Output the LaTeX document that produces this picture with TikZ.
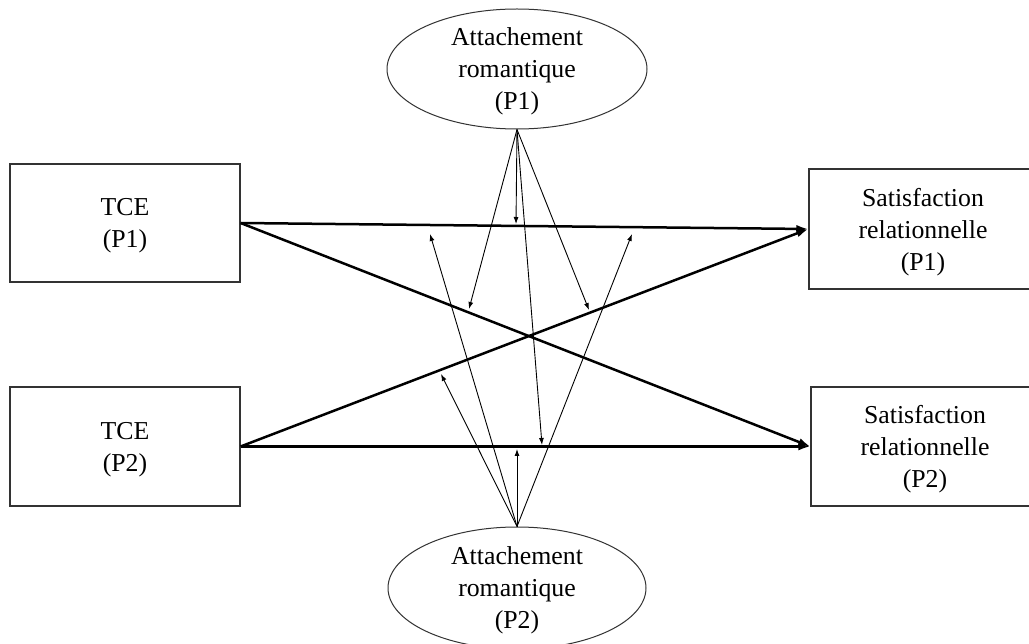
\documentclass[tikz,border=0pt]{standalone}
\usepackage{fontspec}
\setmainfont{Liberation Serif}
\usetikzlibrary{arrows.meta,shapes.geometric}
\begin{document}
\begin{tikzpicture}[x=1pt,y=-1pt,
  lbl/.style={align=center,font=\fontsize{25.8}{32}\selectfont,inner sep=0pt,text depth=-2.5pt},
  box/.style={lbl,draw=black!80,line width=1.2pt,rectangle},
  oval/.style={lbl,draw=black!80,line width=1pt,ellipse},
  thick arrow/.style={line width=2.5pt,-{Latex[length=12pt,width=8pt]}},
  thin arrow/.style={line width=0.9pt,-{Latex[length=7pt,width=5pt]}}]
\useasboundingbox (0,0) rectangle (1029,644);
\fill[white] (0,0) rectangle (1029,644);
% nodes
\node[box,minimum width=230pt,minimum height=118pt] (tce1) at (125,223) {TCE\\(P1)};
\node[box,minimum width=230pt,minimum height=119pt] (tce2) at (125,446.5) {TCE\\(P2)};
\node[box,minimum width=228pt,minimum height=120pt] (sat1) at (923,229) {Satisfaction\\relationnelle\\(P1)};
\node[box,minimum width=228pt,minimum height=119pt] (sat2) at (925,446.5) {Satisfaction\\relationnelle\\(P2)};
\node[oval,minimum width=260pt,minimum height=120pt] (att1) at (517,69) {Attachement\\romantique\\(P1)};
\node[oval,minimum width=258pt,minimum height=122pt] (att2) at (517,588) {Attachement\\romantique\\(P2)};
% targets of moderation arrows
\coordinate (a1) at (516,224);
\coordinate (a2) at (469,309);
\coordinate (a3) at (589,310);
\coordinate (a4) at (542,445);
\coordinate (b1) at (517,449);
\coordinate (b2) at (441,374);
\coordinate (b3) at (430,234);
\coordinate (b4) at (632,234);
% thin arrows
\foreach \t in {a1,a2,a3,a4} \draw[thin arrow] (att1.south) -- (\t);
\foreach \t in {b1,b2,b3,b4} \draw[thin arrow] (att2.north) -- (\t);
% thick arrows
\draw[thick arrow] (tce1.east) -- (sat1.west);
\draw[thick arrow] (tce1.east) -- (sat2.west);
\draw[thick arrow] (tce2.east) -- (sat1.west);
\draw[thick arrow] (tce2.east) -- (sat2.west);
\end{tikzpicture}
\end{document}
